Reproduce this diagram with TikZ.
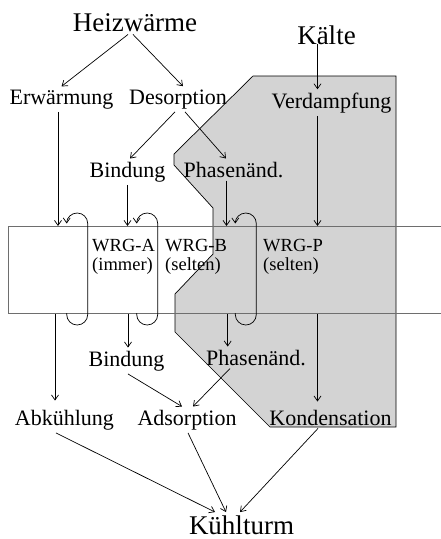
\documentclass[tikz,border=0pt]{standalone}
\usepackage{fontspec}
\setmainfont{Liberation Serif}
\usetikzlibrary{arrows.meta,positioning}
\definecolor{ink}{HTML}{000000}
\definecolor{zonefill}{HTML}{D3D3D3}
\definecolor{bandline}{HTML}{6E6E6E}
\tikzset{
  every node/.style={text=ink, inner sep=3pt, anchor=base},
  bigtext/.style={font=\fontsize{27}{30}\selectfont},
  midtext/.style={font=\fontsize{22}{26}\selectfont},
  wrgtext/.style={font=\fontsize{18.5}{19}\selectfont, align=left, anchor=north west, inner sep=0pt},
  arrow/.style={-{Straight Barb[length=5pt,width=7pt]}, line width=0.7pt, draw=ink},
  band/.style={draw=bandline, line width=1.4pt, anchor=north west, inner sep=0pt, minimum width=460pt, minimum height=87pt},
  zone/.style={fill=zonefill, draw=ink, line width=0.7pt},
}

\begin{document}
\begin{tikzpicture}[x=1pt,y=1pt]
\useasboundingbox (0,0) rectangle (440,-539);
\draw[zone] (253,-76) -- (396,-76) -- (396,-427) -- (270,-427) -- (175,-332) -- (175,-294) -- (213,-254) -- (213,-208) -- (174,-165) -- (174,-154) -- cycle;
\node[band] (band) at (8,-226) {};
% loops through the band
\draw[arrow] (66.7,-313) -- (66.7,-314.5) arc(180:360:10.5) -- (87.7,-223.5) arc(0:180:10.5);
\draw[arrow] (136.7,-313) -- (136.7,-314.5) arc(180:360:10.5) -- (157.7,-223.5) arc(0:180:10.5);
\draw[arrow] (235.3,-313) -- (235.3,-314.5) arc(180:360:10.5) -- (256.3,-223.5) arc(0:180:10.5);
\node[bigtext] (heiz) at (135,-31) {Heizwärme};
\node[bigtext] (kalte) at (326.5,-44) {Kälte};
\node[midtext] (erw) at (61.5,-104) {Erwärmung};
\node[midtext] (des) at (178,-104) {Desorption};
\node[midtext] (verd) at (331.5,-108) {Verdampfung};
\node[midtext] (bind1) at (127.5,-177) {Bindung};
\node[midtext] (phas1) at (233.5,-177) {Phasenänd.};
\node[wrgtext] (wrga) at (92,-239.5) {WRG-A\\(immer)};
\node[wrgtext] (wrgb) at (165,-239.5) {WRG-B\\(selten)};
\node[wrgtext] (wrgp) at (263,-239.5) {WRG-P\\(selten)};
\node[midtext] (bind2) at (126.5,-366) {Bindung};
\node[midtext] (phas2) at (256,-365) {Phasenänd.};
\node[midtext] (abk) at (64.5,-425) {Abkühlung};
\node[midtext] (ads) at (187,-425) {Adsorption};
\node[midtext] (kond) at (330.5,-425) {Kondensation};
\node[bigtext] (kuhl) at (241.5,-534) {Kühlturm};
\draw[arrow]([xshift=-7pt]heiz.south)--(erw.north);\draw[arrow]([xshift=-2pt]heiz.south)--([xshift=5pt]des.north);
\draw[arrow]([xshift=-9pt]kalte.base)--([xshift=-14pt]verd.north);
\draw[arrow]([xshift=-3pt]des.south)--([xshift=2.5pt]bind1.north);\draw[arrow]([xshift=7pt]des.south)--([xshift=-7.5pt]phas1.north);
\draw[arrow]([xshift=-3.5pt]erw.south)--([xshift=-3.5pt]erw.south |- band.north);
\draw[arrow](bind1.south)--(bind1.south |- band.north);
\draw[arrow]([xshift=-7pt]phas1.south)--([xshift=-7pt]phas1.south |- band.north);
\draw[arrow]([xshift=-14pt]verd.south)--([xshift=-14pt]verd.south |- band.north);
\draw[arrow, shorten >=6pt]([xshift=-9.5pt]abk.north |- band.south)--([xshift=-9.5pt]abk.north);
\draw[arrow]([xshift=1.5pt]bind2.north |- band.south)--([xshift=1.5pt]bind2.north);
\draw[arrow]([xshift=-28.3pt]phas2.north |- band.south)--([xshift=-28.3pt]phas2.north);
\draw[arrow, shorten >=5pt]([xshift=-13pt]kond.north |- band.south)--([xshift=-13pt]kond.north);
\draw[arrow]([xshift=1.5pt]bind2.south)--([xshift=-5pt]ads.north);\draw[arrow]([xshift=-26pt]phas2.south)--([xshift=6pt]ads.north);
\draw[arrow]([xshift=-8.5pt]abk.south)--([xshift=-26.5pt]kuhl.north);
\draw[arrow]([xshift=1pt]ads.south)--([xshift=-15.5pt]kuhl.north);
\draw[arrow]([xshift=-12.5pt]kond.south)--([xshift=-1.5pt]kuhl.north);
\end{tikzpicture}
\end{document}
